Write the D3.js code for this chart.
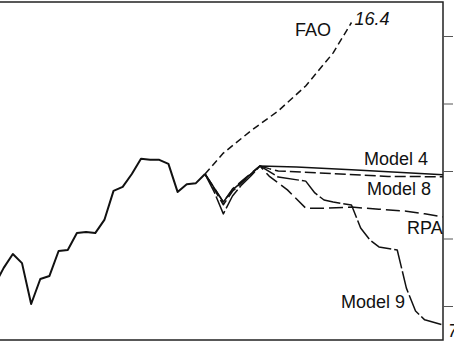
<!DOCTYPE html>
<html>
<head>
<meta charset="utf-8">
<script src="https://cdn.jsdelivr.net/npm/d3@7"></script>
<style>
  body { margin: 0; background: #fff; }
  svg { display: block; font-family: 'Liberation Sans', Arial, sans-serif; }
  .label { font-size: 18px; fill: #111; }
</style>
</head>
<body>
<div id="chart"></div>
<script>
// historical series, one value per year
const histYears = [1977, 1978, 1979, 1980, 1981, 1982, 1983, 1984, 1985, 1986, 1987, 1988,
  1989, 1990, 1991, 1992, 1993, 1994, 1995, 1996, 1997, 1998, 1999, 2000]
const histValues = [8.62, 9.13, 9.54, 9.27, 8.06, 8.80, 8.89, 9.63, 9.66, 10.16, 10.19, 10.16,
  10.55, 11.41, 11.53, 11.91, 12.36, 12.33, 12.33, 12.21, 11.38, 11.61, 11.64, 11.91]

// projections
const faoYears = [2000, 2002, 2005, 2008, 2011, 2014, 2016]
const faoValues = [11.91, 12.53, 13.19, 13.78, 14.52, 15.50, 16.4]

const model4Years = [2000, 2001, 2002, 2003, 2004, 2005, 2006, 2010, 2016, 2020, 2026]
const model4Values = [11.91, 11.50, 11.08, 11.44, 11.67, 11.91, 12.15, 12.12, 12.04, 11.98, 11.89]

const model8Years = [2000, 2001, 2002, 2003, 2004, 2005, 2006, 2007, 2008, 2014, 2020, 2026]
const model8Values = [11.91, 11.46, 11.00, 11.40, 11.65, 11.90, 12.15, 12.07, 12.00, 11.92, 11.84, 11.83]

const rpaYears = [2000, 2001, 2002, 2003, 2004, 2005, 2006, 2007, 2009, 2010, 2011, 2013, 2016, 2019, 2022, 2024, 2026]
const rpaValues = [11.91, 11.50, 11.08, 11.47, 11.70, 11.93, 12.15, 11.85, 11.44, 11.17, 10.90, 10.90, 10.93, 10.87, 10.81, 10.73, 10.64]

const model9Years = [2000, 2001, 2002, 2003, 2004, 2005, 2006, 2008, 2011, 2012, 2013, 2014, 2016,
  2017, 2018, 2019, 2021, 2022, 2023, 2024, 2026]
const model9Values = [11.91, 11.38, 10.73, 11.26, 11.59, 11.85, 12.15, 11.82, 11.70, 11.35, 11.14, 11.08, 10.99,
  10.31, 9.96, 9.75, 9.66, 8.53, 7.85, 7.59, 7.44]

const yTicks = [8, 10, 12, 14, 16]

const width = 454
const height = 342

const svg = d3
  .select('#chart')
  .append('svg')
  .attr('width', width)
  .attr('height', height)

const xPositionScale = d3.scaleLinear().domain([1980, 2026]).range([22, 443])
const yPositionScale = d3.scaleLinear().domain([8, 16]).range([306, 36])

const line = d3
  .line()
  .x(d => xPositionScale(d[0]))
  .y(d => yPositionScale(d[1]))

const zip = (xs, ys) => xs.map((x, i) => [x, ys[i]])

const series = [
  { name: 'Historical', pts: zip(histYears, histValues), dash: null, w: 2 },
  { name: 'FAO', pts: zip(faoYears, faoValues), dash: '7,4', w: 1.5 },
  { name: 'Model 4', pts: zip(model4Years, model4Values), dash: null, w: 1.5 },
  { name: 'Model 8', pts: zip(model8Years, model8Values), dash: '11,4', w: 1.5 },
  { name: 'RPA', pts: zip(rpaYears, rpaValues), dash: '14,5', w: 1.5 },
  { name: 'Model 9', pts: zip(model9Years, model9Values), dash: '22,3', w: 1.5 }
]

svg
  .selectAll('.series')
  .data(series)
  .enter()
  .append('path')
  .attr('class', 'series')
  .attr('d', d => line(d.pts))
  .attr('fill', 'none')
  .attr('stroke', '#111')
  .attr('stroke-width', d => d.w)
  .attr('stroke-dasharray', d => d.dash)
  .attr('stroke-linejoin', 'round')

// frame: top, right, bottom
const frameRight = xPositionScale(2026)
svg.append('path')
  .attr('d', `M0,2H${frameRight}V340H0`)
  .attr('fill', 'none')
  .attr('stroke', '#222')
  .attr('stroke-width', 1.5)

// right axis ticks (labels fall outside the crop)
const yAxis = d3
  .axisRight(yPositionScale)
  .tickValues(yTicks)
  .tickSize(10)
  .tickSizeOuter(0)
  .tickFormat('')

svg
  .append('g')
  .attr('class', 'axis y-axis')
  .attr('transform', `translate(${frameRight},0)`)
  .call(yAxis)

svg.select('.y-axis .domain').remove()
svg.selectAll('.y-axis .tick line').attr('stroke', '#555').attr('stroke-width', 1)

// labels
const labels = [
  { text: 'FAO', x: 295, y: 36 },
  { text: 'Model 4', x: 364, y: 165 },
  { text: 'Model 8', x: 367, y: 195 },
  { text: 'RPA', x: 407, y: 234 },
  { text: 'Model 9', x: 341, y: 308 }
]

svg
  .selectAll('.label')
  .data(labels)
  .enter()
  .append('text')
  .attr('class', 'label')
  .attr('x', d => d.x)
  .attr('y', d => d.y)
  .text(d => d.text)

// end values
svg.append('text')
  .attr('class', 'label')
  .attr('x', xPositionScale(2016) + 3)
  .attr('y', 25)
  .attr('font-style', 'italic')
  .text('16.4')

// cut by the right edge, as in the source crop
svg.append('text')
  .attr('class', 'label')
  .attr('x', frameRight + 5)
  .attr('y', 337)
  .attr('font-style', 'italic')
  .text('7.4')
</script>
</body>
</html>
